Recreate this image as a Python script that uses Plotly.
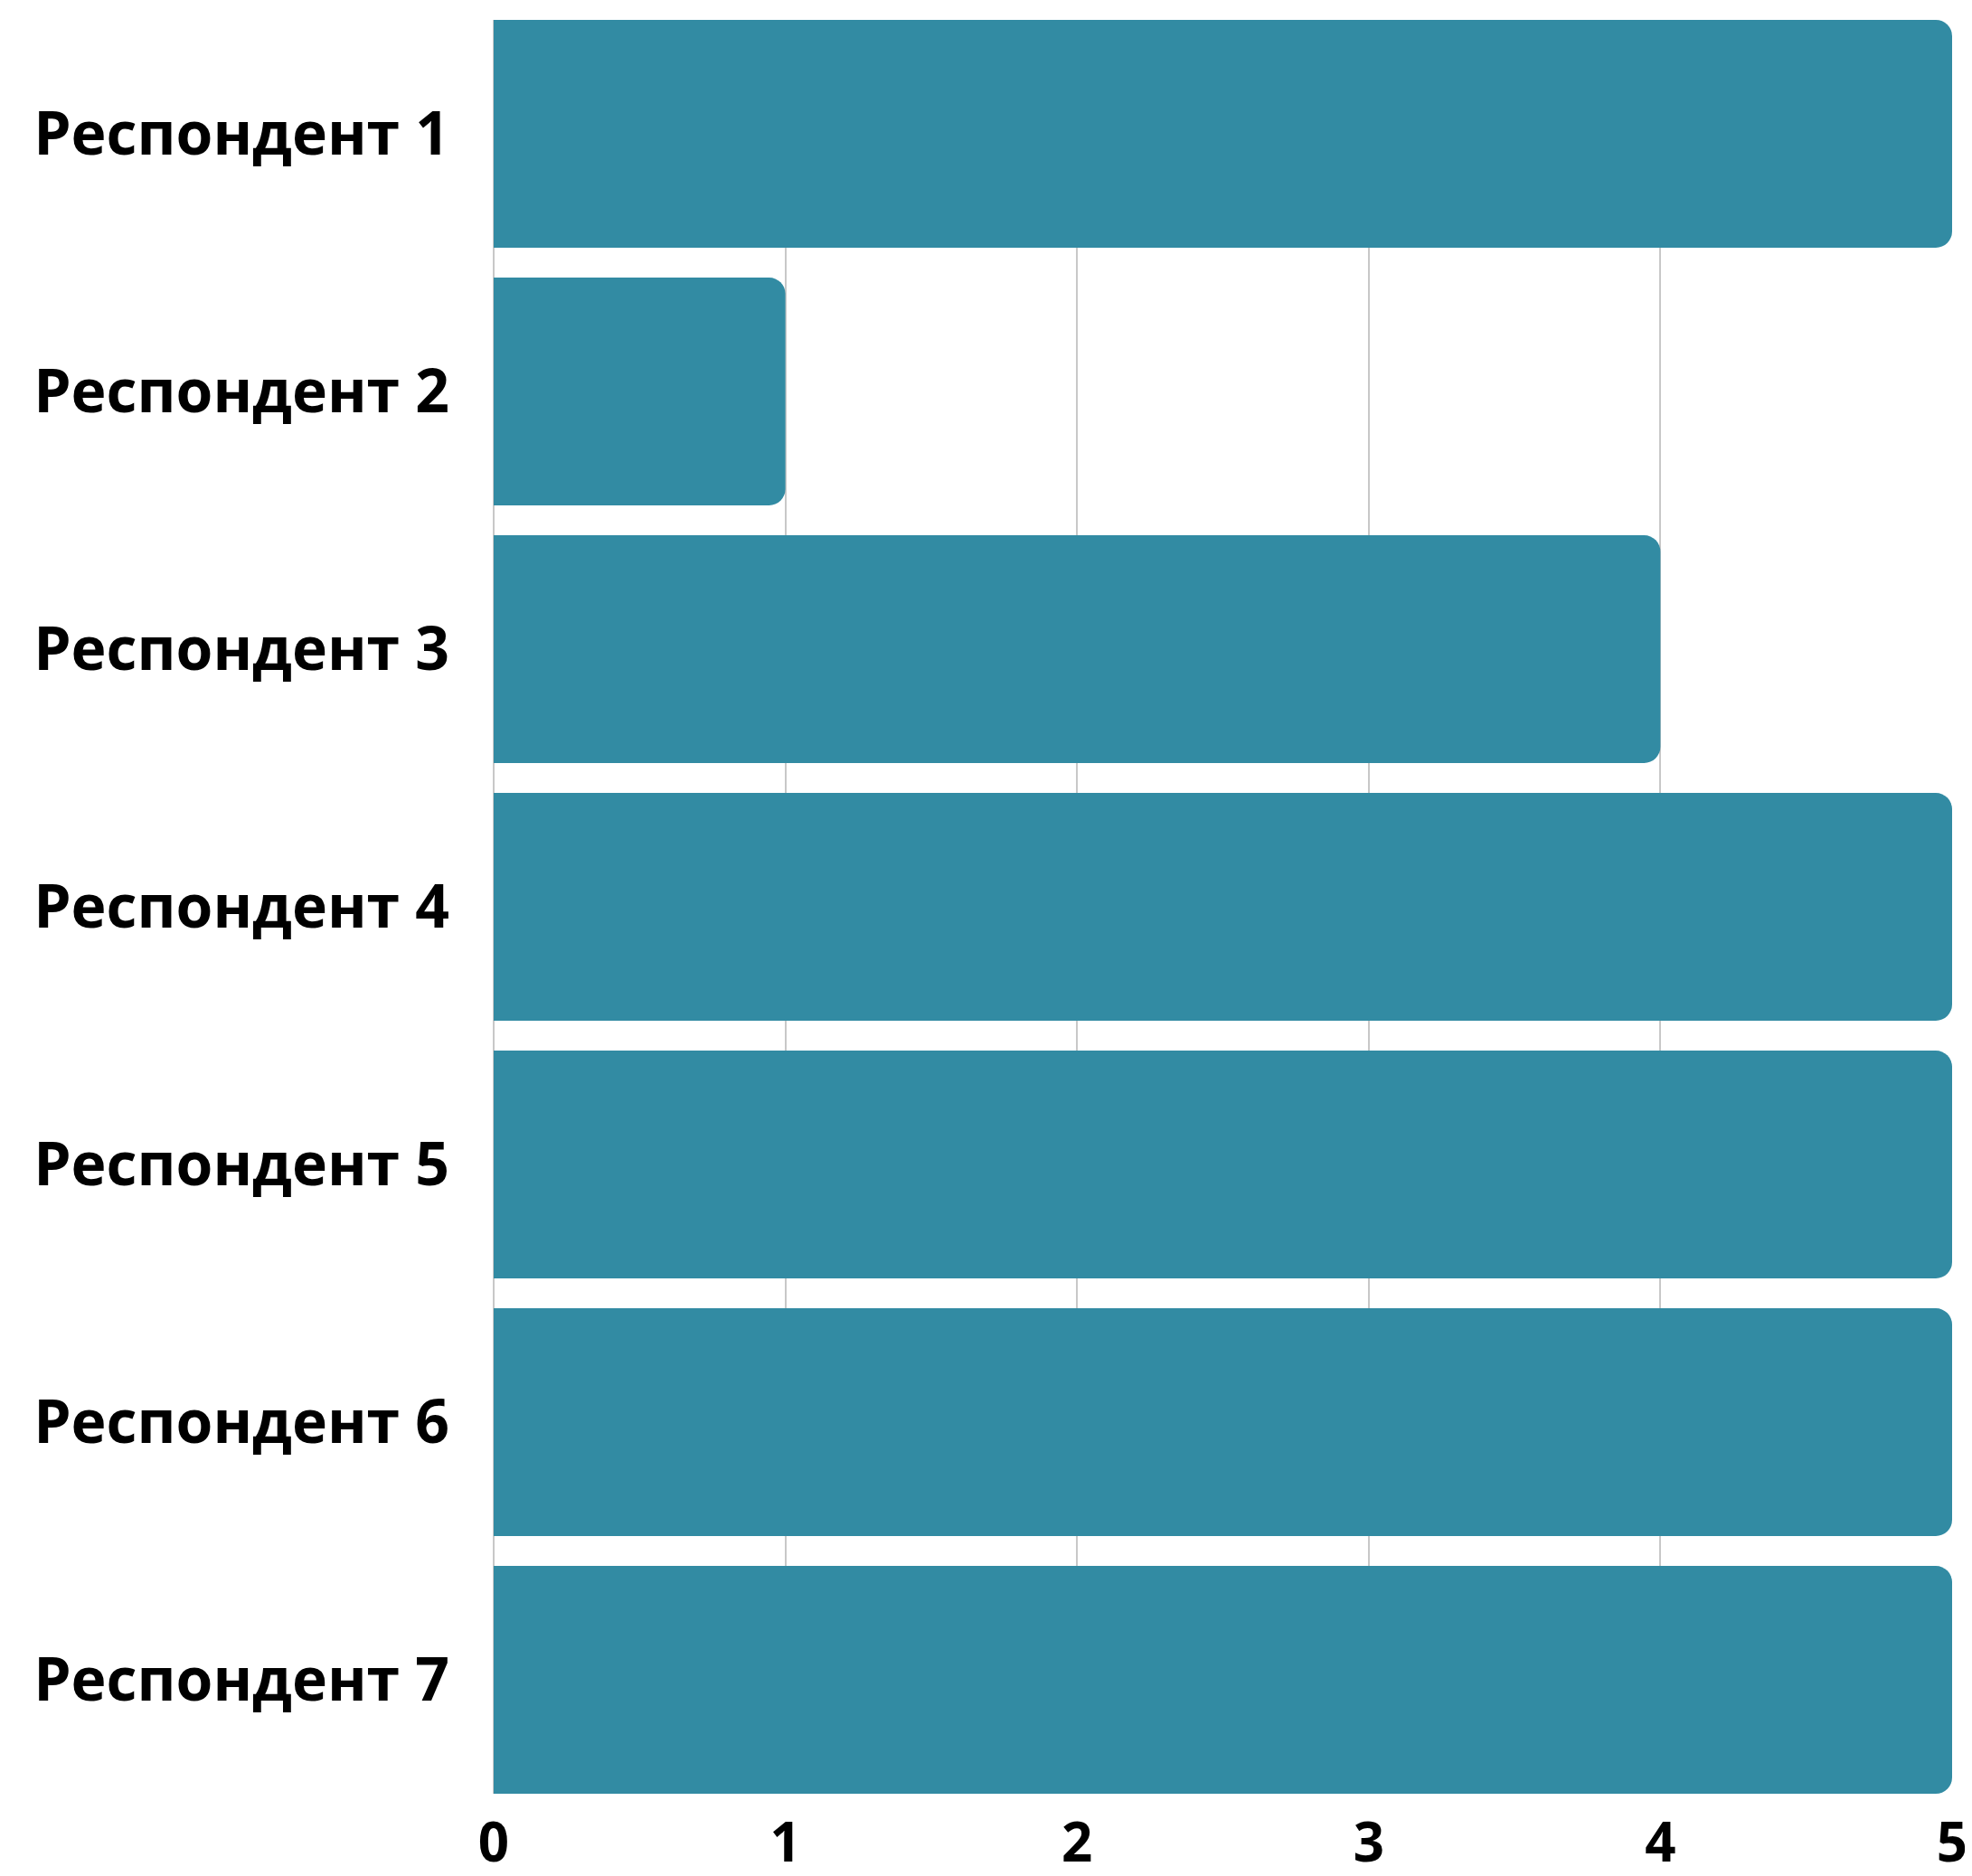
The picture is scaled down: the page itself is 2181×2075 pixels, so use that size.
import plotly.graph_objects as go

categories = ["Респондент 1", "Респондент 2", "Респондент 3", "Респондент 4",
              "Респондент 5", "Респондент 6", "Респондент 7"]
values = [5, 1, 4, 5, 5, 5, 5]
x_ticks = [0, 1, 2, 3, 4, 5]

FONT = dict(family="Open Sans", size=66, color="#000000", weight=700)
XFONT = dict(family="Open Sans", size=60, color="#000000", weight=700)

fig = go.Figure(go.Bar(
    y=categories,
    x=values,
    orientation="h",
    marker=dict(color="#328BA3", cornerradius=18, line=dict(width=0)),
    width=0.884,
))

fig.update_layout(
    width=2181, height=2075,
    margin=dict(l=538, r=30, t=14, b=99, autoexpand=False),
    paper_bgcolor="white", plot_bgcolor="white",
    showlegend=False,
    font=FONT,
)
fig.update_xaxes(
    range=[0, 5], tickvals=x_ticks, ticktext=[str(v) for v in x_ticks],
    showgrid=True, gridcolor="#c8c8c8", gridwidth=2,
    zeroline=True, zerolinecolor="#c8c8c8", zerolinewidth=2,
    showline=False, ticks="", ticklabelstandoff=14, automargin=False,
    tickfont=XFONT,
)
fig.update_yaxes(
    type="category", categoryorder="array", categoryarray=categories,
    range=[6.442, -0.442],
    showgrid=False, zeroline=False, showline=False, ticks="",
    ticklabelstandoff=48, automargin=False,
    tickfont=FONT,
)

fig.write_html("out.html")
